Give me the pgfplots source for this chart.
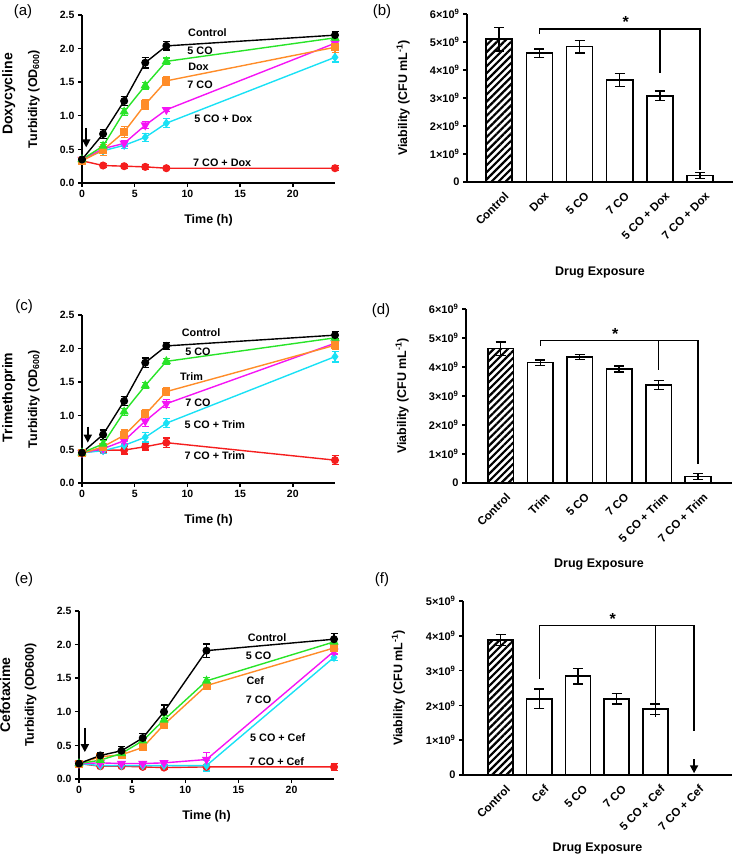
\documentclass[border=0pt]{standalone}
\usepackage{fontspec}
\setmainfont{Liberation Sans}
\usepackage{pgfplots}
\pgfplotsset{compat=1.18}
\usepackage{pgfplotstable}
\usetikzlibrary{patterns.meta, arrows.meta}

\definecolor{cgreen}{RGB}{40,228,40}
\definecolor{corange}{RGB}{255,140,40}
\definecolor{cmagenta}{RGB}{245,20,245}
\definecolor{ccyan}{RGB}{25,225,245}
\definecolor{cred}{RGB}{245,30,30}

% growth curves: time, then mean and error for each condition
% ctl = control, g = 5 CO, o = drug alone, m = 7 CO, c = 5 CO + drug, r = 7 CO + drug
\pgfplotstableread{
t ctl ctle g ge o oe m me c ce r re
0 0.35 0.03 0.35 0.03 0.33 0.03 0.35 0.02 0.35 0.02 0.33 0.02
2 0.73 0.07 0.55 0.05 0.49 0.08 0.51 0.03 0.48 0.03 0.26 0.03
4 1.22 0.07 1.06 0.05 0.76 0.08 0.59 0.04 0.56 0.05 0.25 0.03
6 1.79 0.08 1.45 0.05 1.17 0.07 0.86 0.05 0.68 0.06 0.24 0.04
8 2.04 0.06 1.81 0.05 1.52 0.07 1.09 0.03 0.89 0.07 0.22 0.02
24 2.20 0.06 2.16 0.04 2.02 0.08 2.08 0.04 1.87 0.07 0.22 0.04
}\doxgrowth
\pgfplotstableread{
t ctl ctle g ge o oe m me c ce r re
0 0.45 0.03 0.45 0.02 0.44 0.03 0.45 0.02 0.45 0.02 0.45 0.02
2 0.72 0.07 0.58 0.05 0.54 0.04 0.51 0.04 0.48 0.04 0.49 0.04
4 1.22 0.07 1.06 0.05 0.71 0.08 0.63 0.05 0.56 0.06 0.49 0.06
6 1.79 0.07 1.45 0.04 1.02 0.07 0.92 0.08 0.68 0.07 0.54 0.05
8 2.04 0.05 1.81 0.04 1.36 0.06 1.18 0.06 0.89 0.07 0.60 0.07
24 2.20 0.05 2.16 0.04 2.05 0.06 2.08 0.04 1.88 0.08 0.34 0.07
}\trimgrowth
\pgfplotstableread{
t ctl ctle g ge o oe m me c ce r re
0 0.23 0.02 0.23 0.02 0.23 0.02 0.23 0.02 0.23 0.02 0.23 0.02
2 0.35 0.04 0.28 0.03 0.33 0.03 0.24 0.02 0.20 0.02 0.19 0.02
4 0.42 0.06 0.38 0.04 0.36 0.04 0.23 0.03 0.20 0.02 0.19 0.02
6 0.61 0.07 0.57 0.05 0.47 0.03 0.23 0.02 0.20 0.02 0.18 0.02
8 1.00 0.10 0.88 0.06 0.81 0.06 0.24 0.04 0.20 0.02 0.17 0.02
12 1.91 0.10 1.46 0.05 1.39 0.05 0.29 0.10 0.20 0.08 0.18 0.02
24 2.08 0.08 2.04 0.05 1.95 0.05 1.90 0.04 1.81 0.05 0.18 0.05
}\cefgrowth

% viability, in units of 10^9 CFU/mL: x position, mean, error
\pgfplotstableread{
x v e
0 5.10 0.42
}\doxctl
\pgfplotstableread{
x v e
1 4.60 0.15
2 4.83 0.22
3 3.64 0.23
4 3.08 0.17
5 0.23 0.10
}\doxbars
\pgfplotstableread{
x v e
0 4.63 0.23
}\trimctl
\pgfplotstableread{
x v e
1 4.15 0.09
2 4.34 0.09
3 3.93 0.10
4 3.38 0.16
5 0.23 0.10
}\trimbars
\pgfplotstableread{
x v e
0 3.88 0.16
}\cefctl
\pgfplotstableread{
x v e
1 2.19 0.28
2 2.84 0.22
3 2.19 0.15
4 1.89 0.15
}\cefbars

\newcommand{\lblfont}{\fontsize{10.8}{12}\selectfont\bfseries}

\pgfplotsset{
  prism/.style={scale only axis, axis lines=left,
    axis line style={line width=1.6pt,-},
    tick style={line width=1.4pt, black}, tick align=outside,
    major tick length=4pt, clip=false,
    /pgf/number format/assume math mode=true,
    tick label style={font=\fontsize{10.5}{12}\selectfont\bfseries},
    label style={font=\fontsize{12.5}{14}\selectfont\bfseries}},
  growth/.style={prism, width=253pt, height=168pt,
    xmin=0, xmax=24, ymin=0, ymax=2.5,
    xtick={0,5,10,15,20}, ytick={0,0.5,1,1.5,2,2.5},
    yticklabel style={/pgf/number format/fixed,
      /pgf/number format/fixed zerofill, /pgf/number format/precision=1},
    xlabel={Time (h)},
    xlabel style={at={(axis description cs:0.5,-0.22)}, anchor=center},
    ylabel style={at={(axis description cs:-0.19,0.5)}, anchor=center}},
  ser/.style={line width=1.4pt, color=#1, mark options={solid, fill=#1, draw=#1},
    error bars/y dir=both, error bars/y explicit,
    error bars/error bar style={line width=1.2pt, color=#1},
    error bars/error mark options={rotate=90, mark size=3.5pt, line width=1.2pt, color=#1}},
  bars/.style={prism, width=266pt,
    xtick={0,1,2,3,4,5}, ymin=0, xtick style={draw=none},
    tick label style={font=\fontsize{11}{12}\selectfont\bfseries},
    xticklabel style={rotate=45, anchor=east, yshift=-11pt, xshift=3pt,
      font=\fontsize{11.5}{13}\selectfont\bfseries},
    ylabel={Viability (CFU mL\textsuperscript{-1})},
    xlabel={Drug Exposure},
    ylabel style={at={(axis description cs:-0.24,0.5)}, anchor=center}},
  wbar/.style={ybar, bar width=0.65, bar shift=0pt, draw=black, fill=white,
    line width=1.5pt,
    error bars/y dir=both, error bars/y explicit,
    error bars/error bar style={line width=1.4pt, black},
    error bars/error mark options={rotate=90, mark size=5pt, line width=1.4pt, black}},
  hbar/.style={wbar, pattern={Lines[angle=45, distance=5pt, line width=2.2pt]}},
}

\begin{document}
\begin{tikzpicture}
\useasboundingbox (0pt,0pt) rectangle (735pt,864pt);

% panel labels
\foreach \lab/\px/\py in {(a)/23/852, (b)/382/852, (c)/24/557, (d)/381/553, (e)/24/284, (f)/382/284}
  \node[font=\fontsize{15}{17}\selectfont] at (\px pt,\py pt) {\lab};

% ---------- (a) doxycycline growth ----------
\begin{axis}[growth, at={(82pt,681pt)}, anchor=south west,
  ylabel={Turbidity (OD\textsubscript{600})}]
\addplot[ser=cred, mark=*, mark size=3.3pt] table[x=t, y=r, y error=re] {\doxgrowth};
\addplot[ser=ccyan, mark=diamond*, mark size=3.5pt] table[x=t, y=c, y error=ce] {\doxgrowth};
\addplot[ser=cmagenta, mark=triangle*, mark options={rotate=180}, mark size=4pt] table[x=t, y=m, y error=me] {\doxgrowth};
\addplot[ser=corange, mark=square*, mark size=3.3pt] table[x=t, y=o, y error=oe] {\doxgrowth};
\addplot[ser=cgreen, mark=triangle*, mark size=4pt] table[x=t, y=g, y error=ge] {\doxgrowth};
\addplot[ser=black, mark=*, mark size=3.3pt] table[x=t, y=ctl, y error=ctle] {\doxgrowth};
\node[font=\lblfont] at (axis cs:11.9,2.23) {Control};
\node[font=\lblfont] at (axis cs:11.2,1.97) {5 CO};
\node[font=\lblfont] at (axis cs:11.05,1.73) {Dox};
\node[font=\lblfont] at (axis cs:11.2,1.46) {7 CO};
\node[font=\lblfont] at (axis cs:13.4,0.95) {5 CO + Dox};
\node[font=\lblfont] at (axis cs:13.3,0.30) {7 CO + Dox};
\draw[line width=1.8pt, -{Triangle[width=8pt,length=8pt]}] (axis cs:0.4,0.82) -- (axis cs:0.4,0.53);
\node[rotate=90, font=\fontsize{14}{16}\selectfont\bfseries] at (axis description cs:-0.29,0.53) {Doxycycline};
\end{axis}

% ---------- (b) doxycycline viability ----------
\begin{axis}[bars, at={(467pt,682pt)}, anchor=south west, height=168pt,
  xmin=-0.8, xmax=5.82, ymax=6, ytick={0,1,2,3,4,5,6},
  yticklabels={0, 1×10\textsuperscript{9}, 2×10\textsuperscript{9}, 3×10\textsuperscript{9}, 4×10\textsuperscript{9}, 5×10\textsuperscript{9}, 6×10\textsuperscript{9}},
  xticklabels={Control, Dox, 5 CO, 7 CO, 5 CO + Dox, 7 CO + Dox},
  xlabel style={at={(axis description cs:0.5,-0.536)}, anchor=center}]
\addplot[hbar] table[x=x, y=v, y error=e] {\doxctl};
\addplot[wbar] table[x=x, y=v, y error=e] {\doxbars};
\draw[line width=1.4pt] (axis cs:1,5.30) -- (axis cs:1,5.47) -- (axis cs:5,5.47) -- (axis cs:5,0.43);
\draw[line width=1.4pt] (axis cs:4,5.47) -- (axis cs:4,3.90);
\node[font=\fontsize{16}{18}\selectfont\bfseries, anchor=south, inner sep=1pt] at (axis cs:3.15,5.47) {*};
\end{axis}

% ---------- (c) trimethoprim growth ----------
\begin{axis}[growth, at={(82pt,381pt)}, anchor=south west,
  ylabel={Turbidity (OD\textsubscript{600})}]
\addplot[ser=cred, mark=*, mark size=3.3pt] table[x=t, y=r, y error=re] {\trimgrowth};
\addplot[ser=ccyan, mark=diamond*, mark size=3.5pt] table[x=t, y=c, y error=ce] {\trimgrowth};
\addplot[ser=cmagenta, mark=triangle*, mark options={rotate=180}, mark size=4pt] table[x=t, y=m, y error=me] {\trimgrowth};
\addplot[ser=corange, mark=square*, mark size=3.3pt] table[x=t, y=o, y error=oe] {\trimgrowth};
\addplot[ser=cgreen, mark=triangle*, mark size=4pt] table[x=t, y=g, y error=ge] {\trimgrowth};
\addplot[ser=black, mark=*, mark size=3.3pt] table[x=t, y=ctl, y error=ctle] {\trimgrowth};
\node[font=\lblfont] at (axis cs:11.3,2.24) {Control};
\node[font=\lblfont] at (axis cs:11.0,1.96) {5 CO};
\node[font=\lblfont] at (axis cs:10.4,1.59) {Trim};
\node[font=\lblfont] at (axis cs:11.0,1.19) {7 CO};
\node[font=\lblfont] at (axis cs:12.6,0.87) {5 CO + Trim};
\node[font=\lblfont] at (axis cs:12.6,0.40) {7 CO + Trim};
\draw[line width=1.8pt, -{Triangle[width=8pt,length=8pt]}] (axis cs:0.55,0.84) -- (axis cs:0.55,0.60);
\node[rotate=90, font=\fontsize{14}{16}\selectfont\bfseries] at (axis description cs:-0.29,0.51) {Trimethoprim};
\end{axis}

% ---------- (d) trimethoprim viability ----------
\begin{axis}[bars, at={(466pt,381pt)}, anchor=south west, height=174pt,
  xmin=-0.88, xmax=5.86, ymax=6, ytick={0,1,2,3,4,5,6},
  yticklabels={0, 1×10\textsuperscript{9}, 2×10\textsuperscript{9}, 3×10\textsuperscript{9}, 4×10\textsuperscript{9}, 5×10\textsuperscript{9}, 6×10\textsuperscript{9}},
  xticklabels={Control, Trim, 5 CO, 7 CO, 5 CO + Trim, 7 CO + Trim},
  xlabel style={at={(axis description cs:0.5,-0.466)}, anchor=center}]
\addplot[hbar] table[x=x, y=v, y error=e] {\trimctl};
\addplot[wbar] table[x=x, y=v, y error=e] {\trimbars};
\draw[line width=1.4pt] (axis cs:1,4.73) -- (axis cs:1,4.92) -- (axis cs:5,4.92) -- (axis cs:5,0.65);
\draw[line width=1.4pt] (axis cs:4,4.92) -- (axis cs:4,3.90);
\node[font=\fontsize{16}{18}\selectfont\bfseries, anchor=south, inner sep=1pt] at (axis cs:2.9,4.92) {*};
\end{axis}

% ---------- (e) cefotaxime growth ----------
\begin{axis}[growth, at={(79pt,85pt)}, anchor=south west, width=255pt,
  ylabel={Turbidity (OD600)}]
\addplot[ser=cred, mark=*, mark size=3.3pt] table[x=t, y=r, y error=re] {\cefgrowth};
\addplot[ser=ccyan, mark=diamond*, mark size=3.5pt] table[x=t, y=c, y error=ce] {\cefgrowth};
\addplot[ser=cmagenta, mark=triangle*, mark options={rotate=180}, mark size=4pt] table[x=t, y=m, y error=me] {\cefgrowth};
\addplot[ser=corange, mark=square*, mark size=3.3pt] table[x=t, y=o, y error=oe] {\cefgrowth};
\addplot[ser=cgreen, mark=triangle*, mark size=4pt] table[x=t, y=g, y error=ge] {\cefgrowth};
\addplot[ser=black, mark=*, mark size=3.3pt] table[x=t, y=ctl, y error=ctle] {\cefgrowth};
\node[font=\lblfont] at (axis cs:17.7,2.10) {Control};
\node[font=\lblfont] at (axis cs:16.9,1.84) {5 CO};
\node[font=\lblfont] at (axis cs:16.6,1.46) {Cef};
\node[font=\lblfont] at (axis cs:16.9,1.18) {7 CO};
\node[font=\lblfont] at (axis cs:18.7,0.62) {5 CO + Cef};
\node[font=\lblfont] at (axis cs:18.6,0.26) {7 CO + Cef};
\draw[line width=1.8pt, -{Triangle[width=8pt,length=8pt]}] (axis cs:0.55,0.76) -- (axis cs:0.55,0.40);
\node[rotate=90, font=\fontsize{14}{16}\selectfont\bfseries] at (axis description cs:-0.29,0.5) {Cefotaxime};
\end{axis}

% ---------- (f) cefotaxime viability ----------
\begin{axis}[bars, at={(463pt,89pt)}, anchor=south west, width=269pt, height=174pt,
  xmin=-0.97, xmax=5.98, ymax=5, ytick={0,1,2,3,4,5},
  yticklabels={0, 1×10\textsuperscript{9}, 2×10\textsuperscript{9}, 3×10\textsuperscript{9}, 4×10\textsuperscript{9}, 5×10\textsuperscript{9}},
  xticklabels={Control, Cef, 5 CO, 7 CO, 5 CO + Cef, 7 CO + Cef},
  xlabel style={at={(axis description cs:0.5,-0.42)}, anchor=center}]
\addplot[hbar] table[x=x, y=v, y error=e] {\cefctl};
\addplot[wbar] table[x=x, y=v, y error=e] {\cefbars};
\draw[line width=1.4pt] (axis cs:1,2.76) -- (axis cs:1,4.29) -- (axis cs:5,4.29) -- (axis cs:5,1.25);
\draw[line width=1.4pt] (axis cs:4,4.29) -- (axis cs:4,1.68);
\node[font=\fontsize{16}{18}\selectfont\bfseries, anchor=south, inner sep=1pt] at (axis cs:2.9,4.29) {*};
\draw[line width=1.8pt, -{Triangle[width=8pt,length=8pt]}] (axis cs:5,0.45) -- (axis cs:5,0.05);
\end{axis}
\end{tikzpicture}
\end{document}
